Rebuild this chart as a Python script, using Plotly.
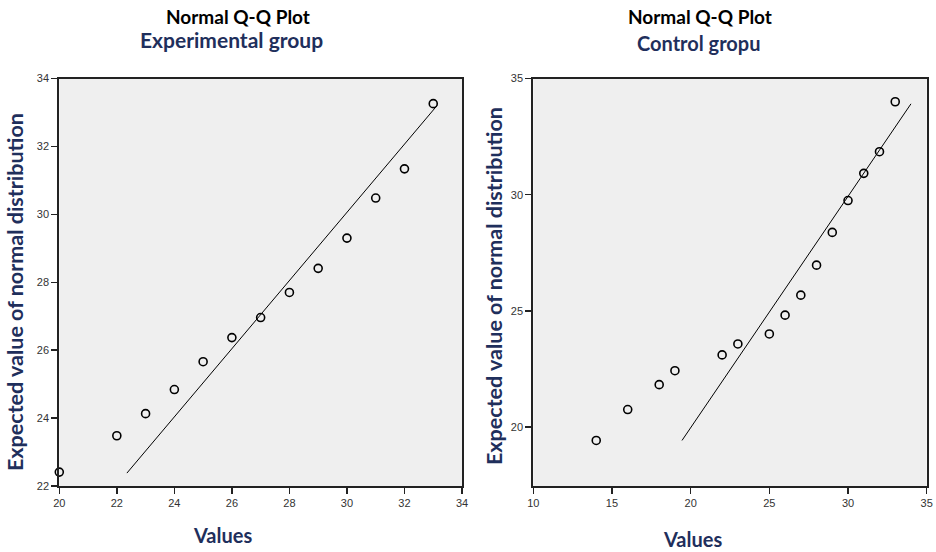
import plotly.graph_objects as go

# Experimental group
exp_values = [20, 22, 23, 24, 25, 26, 27, 28, 29, 30, 31, 32, 33]
exp_expected = [22.41, 23.48, 24.13, 24.84, 25.66, 26.37, 26.96, 27.70, 28.41, 29.30, 30.48, 31.34, 33.26]
exp_line_x = [22.35, 33.13]
exp_line_y = [22.38, 33.20]

# Control group
ctl_values = [14, 16, 18, 19, 22, 23, 25, 26, 27, 28, 29, 30, 31, 32, 33]
ctl_expected = [19.43, 20.76, 21.83, 22.43, 23.11, 23.58, 24.01, 24.82, 25.68, 26.97, 28.38, 29.75, 30.92, 31.85, 34.0]
ctl_line_x = [19.45, 34.0]
ctl_line_y = [19.43, 33.91]

exp_xticks = [20, 22, 24, 26, 28, 30, 32, 34]
exp_yticks = [22, 24, 26, 28, 30, 32, 34]
ctl_xticks = [10, 15, 20, 25, 30, 35]
ctl_yticks = [20, 25, 30, 35]

NAVY = "#1f2f5c"
W, H = 936, 552

fig = go.Figure()

marker = dict(symbol="circle-open", size=8, color="black", line=dict(width=1.6, color="black"))

fig.add_trace(go.Scatter(x=exp_line_x, y=exp_line_y, mode="lines",
                         line=dict(color="black", width=1), xaxis="x", yaxis="y", showlegend=False))
fig.add_trace(go.Scatter(x=exp_values, y=exp_expected, mode="markers", marker=marker,
                         xaxis="x", yaxis="y", showlegend=False, cliponaxis=False))
fig.add_trace(go.Scatter(x=ctl_line_x, y=ctl_line_y, mode="lines",
                         line=dict(color="black", width=1), xaxis="x2", yaxis="y2", showlegend=False))
fig.add_trace(go.Scatter(x=ctl_values, y=ctl_expected, mode="markers", marker=marker,
                         xaxis="x2", yaxis="y2", showlegend=False, cliponaxis=False))

ydom = [(H - 486) / H, (H - 78.5) / H]
axis_common = dict(showgrid=False, zeroline=False, showline=True, linecolor="#222222", linewidth=2,
                   mirror=True, ticks="outside", ticklen=6, tickwidth=1.5, tickcolor="#222222",
                   automargin=False,
                   tickfont=dict(family="Liberation Sans, Arial", size=11, color="#333333"))

fig.update_layout(
    template="none",
    width=W, height=H,
    margin=dict(l=0, r=0, t=0, b=0, autoexpand=False),
    paper_bgcolor="white",
    plot_bgcolor="#efefef",
    xaxis=dict(domain=[59.3 / W, 462 / W], range=[20, 34], tickvals=exp_xticks,
               anchor="y", **axis_common),
    yaxis=dict(domain=ydom, range=[22, 34], tickvals=exp_yticks, anchor="x", **axis_common),
    xaxis2=dict(domain=[533.3 / W, 926.7 / W], range=[10, 35], tickvals=ctl_xticks,
                anchor="y2", **axis_common),
    yaxis2=dict(domain=ydom, range=[17.47, 35], tickvals=ctl_yticks, anchor="x2", **axis_common),
)

def ann(text, x, y, size, color, angle=0):
    fig.add_annotation(text=text, x=x / W, y=1 - y / H, xref="paper", yref="paper",
                       showarrow=False, textangle=angle, xanchor="center", yanchor="middle",
                       font=dict(family="Lato, Open Sans, sans-serif", size=size, color=color))

ann("<b>Normal Q-Q Plot</b>", 238, 16, 19, "black")
ann("<b>Experimental group</b>", 231, 40, 21, NAVY)
ann("<b>Normal Q-Q Plot</b>", 700, 16, 19, "black")
ann("<b>Control gropu</b>", 698, 43, 20, NAVY)
ann("<b>Values</b>", 222, 535, 20, NAVY)
ann("<b>Values</b>", 692, 539, 20, NAVY)
ann("<b>Expected value of normal distribution</b>", 15, 292, 21.5, NAVY, angle=-90)
ann("<b>Expected value of normal distribution</b>", 494, 286, 21.5, NAVY, angle=-90)

fig.write_html("out.html",
               config={"displayModeBar": False, "staticPlot": True},
               post_script="document.body.style.margin='0';document.body.style.overflow='hidden';")
